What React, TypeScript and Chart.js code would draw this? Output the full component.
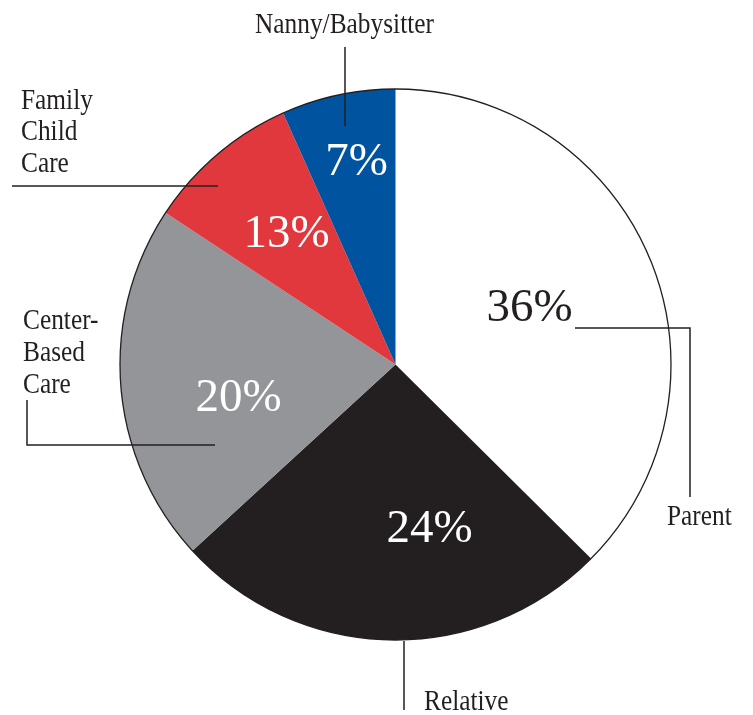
import React, { useEffect, useRef } from "react";
import { Chart, registerables } from "chart.js";

Chart.register(...registerables);

const categories = ["Parent", "Relative", "Center-Based Care", "Family Child Care", "Nanny/Babysitter"];
// printed labels
const percentLabels = ["36%", "24%", "20%", "13%", "7%"];
// slice sizes as actually drawn in the picture (measured from the wedge angles)
const drawnShares = [37.44, 25.75, 21.09, 9.03, 6.69];

const SLICE_COLORS = ["#ffffff", "#231f20", "#939598", "#e1383e", "#00549f"];
const PCT_COLORS = ["#231f20", "#ffffff", "#ffffff", "#ffffff", "#ffffff"];
// polar placement of the percent labels: radius fraction and angular nudge (deg)
const PCT_PLACE = [
  { rf: 0.53, d: -0.8 },
  { rf: 0.606, d: -12.9 },
  { rf: 0.582, d: -7.15 },
  { rf: 0.62, d: 0.75 },
  { rf: 0.755, d: 1.25 },
];

const INK = "#231f20";
const LABEL_FONT = "28.5px 'Liberation Serif', 'Times New Roman', serif";
const LABEL_SCALE = 0.89;
const PCT_FONT = "47px 'Liberation Serif', 'Times New Roman', serif";

// callout text lines (x, baseline) and leader polylines
const CALLOUTS = [
  { lines: [["Parent", 667, 525]], path: [[575, 328], [690, 328], [690, 497]] },
  { lines: [["Relative", 424, 710]], path: [[404, 641], [404, 710]] },
  {
    lines: [["Center-", 23, 329], ["Based", 23, 361], ["Care", 23, 393]],
    path: [[27, 400], [27, 445], [215, 445]],
  },
  {
    lines: [["Family", 21, 109], ["Child", 21, 140], ["Care", 21, 172]],
    path: [[12, 186], [218, 186]],
  },
  { lines: [["Nanny/Babysitter", 255, 33]], path: [[345, 47], [345, 126]] },
];

const overlay = {
  id: "pieOverlay",
  afterDatasetsDraw(chart: any) {
    const ctx = chart.ctx as CanvasRenderingContext2D;
    const meta = chart.getDatasetMeta(0);
    const arcs = meta.data as any[];
    if (!arcs.length) return;
    const cx = arcs[0].x;
    const cy = arcs[0].y;
    const R = arcs[0].outerRadius;

    // outer circle outline
    ctx.save();
    ctx.beginPath();
    ctx.arc(cx, cy, R, 0, Math.PI * 2);
    ctx.strokeStyle = INK;
    ctx.lineWidth = 1.3;
    ctx.stroke();
    ctx.restore();

    // percent labels
    ctx.save();
    ctx.font = PCT_FONT;
    ctx.textAlign = "center";
    ctx.textBaseline = "middle";
    arcs.forEach((arc, i) => {
      const p = PCT_PLACE[i];
      const a = (arc.startAngle + arc.endAngle) / 2 + (p.d * Math.PI) / 180;
      const x = cx + Math.cos(a) * R * p.rf;
      const y = cy + Math.sin(a) * R * p.rf;
      ctx.fillStyle = PCT_COLORS[i];
      ctx.fillText(percentLabels[i], x, y + 2);
    });
    ctx.restore();

    // callouts
    ctx.save();
    ctx.strokeStyle = INK;
    ctx.lineWidth = 1.5;
    CALLOUTS.forEach((c) => {
      ctx.beginPath();
      c.path.forEach(([x, y], k) => (k === 0 ? ctx.moveTo(x, y) : ctx.lineTo(x, y)));
      ctx.stroke();
    });
    ctx.fillStyle = INK;
    ctx.font = LABEL_FONT;
    ctx.textAlign = "left";
    ctx.textBaseline = "alphabetic";
    CALLOUTS.forEach((c) => {
      c.lines.forEach(([t, x, y]: any) => {
        ctx.save();
        ctx.translate(x, y);
        ctx.scale(LABEL_SCALE, 1);
        ctx.fillText(t, 0, 0);
        ctx.restore();
      });
    });
    ctx.restore();
  },
};

export default function App() {
  const ref = useRef<HTMLCanvasElement | null>(null);
  useEffect(() => {
    document.body.style.margin = "0";
    if (!ref.current) return;
    const chart = new Chart(ref.current, {
      type: "pie",
      data: {
        labels: categories,
        datasets: [
          {
            data: drawnShares,
            backgroundColor: SLICE_COLORS,
            borderWidth: 0,
          },
        ],
      },
      options: {
        responsive: false,
        animation: false,
        devicePixelRatio: 1,
        layout: { padding: { left: 120, right: 82, top: 89, bottom: 75 } },
        plugins: {
          legend: { display: false },
          tooltip: { enabled: false },
        },
      },
      plugins: [overlay],
    });
    return () => chart.destroy();
  }, []);
  return (
    <div style={{ position: "absolute", left: 0, top: 0, width: 753, height: 715, background: "#fff" }}>
      <canvas ref={ref} width={753} height={715} style={{ width: 753, height: 715, display: "block" }} />
    </div>
  );
}
